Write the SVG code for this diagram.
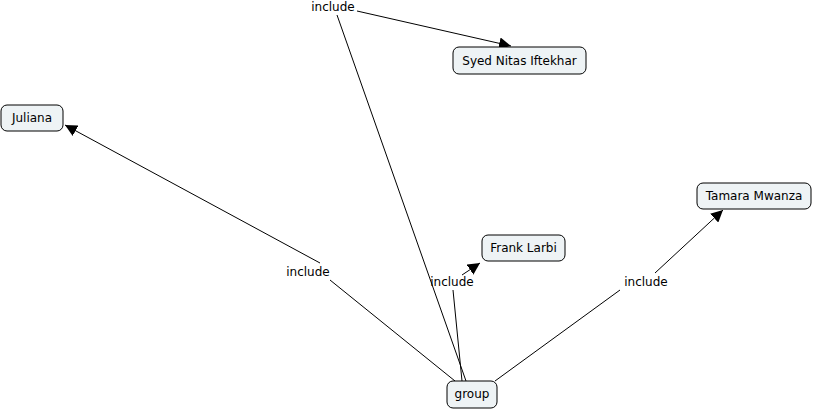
<svg xmlns="http://www.w3.org/2000/svg" width="814" height="410" viewBox="0 0 814 410">
<defs>
<marker id="ah" viewBox="0 0 10 10" refX="10" refY="5" markerWidth="12" markerHeight="12" markerUnits="userSpaceOnUse" orient="auto">
<path d="M0,0 L10,5 L0,10 z" fill="#000"/>
</marker>
</defs>
<style>
.node rect{fill:#eef3f5;stroke:#000;stroke-width:1}
text{font-family:"DejaVu Sans",Verdana,sans-serif;font-size:12px;fill:#000}
.node text{text-anchor:middle}
.lbl{text-anchor:middle}
.c{stroke:#000;stroke-width:1;fill:none}
</style>
<rect width="814" height="410" fill="#fff"/>
<g id="connectors">
<line class="c" x1="466" y1="381" x2="337" y2="15"/>
<line class="c" x1="357" y1="11" x2="511" y2="46" marker-end="url(#ah)"/>
<line class="c" x1="455" y1="381" x2="330" y2="280"/>
<line class="c" x1="320" y1="263" x2="65" y2="125" marker-end="url(#ah)"/>
<line class="c" x1="462" y1="381" x2="453" y2="290"/>
<line class="c" x1="462" y1="275" x2="480" y2="263" marker-end="url(#ah)"/>
<line class="c" x1="495" y1="381" x2="620" y2="290"/>
<line class="c" x1="655" y1="273" x2="723" y2="210" marker-end="url(#ah)"/>
</g>
<g id="labels">
<text class="lbl" x="333" y="11">include</text>
<text class="lbl" x="308" y="276">include</text>
<text class="lbl" x="452" y="286">include</text>
<text class="lbl" x="646" y="286">include</text>
</g>
<g id="node-group" class="node">
<rect x="447" y="381" width="50" height="27" rx="6"/>
<text x="472" y="398">group</text>
</g>
<g id="node-juliana" class="node">
<rect x="1" y="105" width="62" height="26" rx="6"/>
<text x="32" y="122">Juliana</text>
</g>
<g id="node-syed" class="node">
<rect x="453" y="47" width="133" height="27" rx="6"/>
<text x="519.5" y="65">Syed Nitas Iftekhar</text>
</g>
<g id="node-frank" class="node">
<rect x="482" y="235" width="83" height="26" rx="6"/>
<text x="523.5" y="252">Frank Larbi</text>
</g>
<g id="node-tamara" class="node">
<rect x="697" y="183" width="114" height="26" rx="6"/>
<text x="754" y="200">Tamara Mwanza</text>
</g>
</svg>
